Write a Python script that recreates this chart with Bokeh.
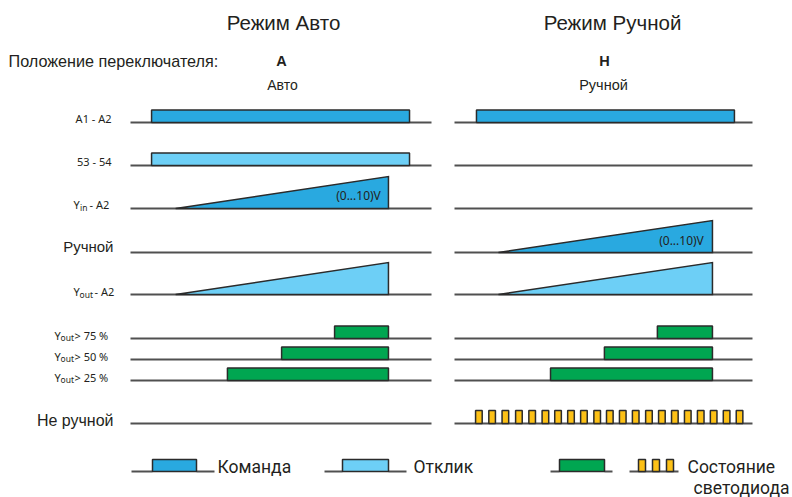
from bokeh.plotting import figure
from bokeh.models import Range1d, Label
from bokeh.embed import file_html
from bokeh.resources import INLINE

# ---------------- data (time in % of each panel's window, levels in V) ----------------
titles = ["Режим Авто", "Режим Ручной"]
switch_pos = ["A", "H"]
switch_names = ["Авто", "Ручной"]

# Auto mode
auto_cmd = [7.0, 92.7]            # A1-A2 on / off
auto_resp = [7.0, 92.7]           # 53-54 on / off
auto_yin_t = [15.0, 85.7]         # Yin ramp start / end
auto_yin_v = [0.0, 10.0]
auto_yout_t = [15.0, 85.7]        # Yout ramp start / end
auto_yout_v = [0.0, 10.0]
auto_thr_on = [67.8, 50.2, 32.2]  # Yout > 75 %, > 50 %, > 25 %
auto_thr_off = [85.7, 85.7, 85.7]

# Manual mode
man_cmd = [7.3, 93.0]
man_pot_t = [14.6, 85.7]          # manual setpoint ramp
man_pot_v = [0.0, 10.0]
man_yout_t = [14.6, 85.7]
man_yout_v = [0.0, 10.0]
man_thr_on = [67.4, 49.8, 31.9]
man_thr_off = [85.7, 85.7, 85.7]
man_led_on = [7.0, 11.4, 15.8, 20.3, 24.7, 29.1, 33.3, 37.6, 41.9, 46.3, 50.5,
              54.8, 59.1, 63.5, 67.8, 72.1, 76.4, 80.7, 85.0, 89.3, 93.6]
man_led_len = 2.2

legend_labels = ["Команда", "Отклик", "", "Состояние\nсветодиода"]

# ---------------- layout ----------------
W, H = 792, 497
PX = 3.01                      # px per time unit
LEFT0 = 130                    # canvas x of auto panel t=0
X0 = -LEFT0 / PX
X1 = X0 + W / PX
OFF = [0.0, (454 - LEFT0) / PX]   # panel offsets (data units)
PANEL_END = [100.0, 99.0]

ROW_Y = {"cmd": 122, "resp": 165, "yin": 208, "man": 252, "yout": 294,
         "t75": 338, "t50": 359, "t25": 380, "led": 423}
DIG_H = 12.5
GREEN_H = 12.5
LED_H = 13
V_PX = 3.2

C_CMD = "#29a9e0"
C_RESP = "#6dcff6"
C_GREEN = "#00a651"
C_LED = "#fdc116"
C_EDGE = "#2b2b2b"
C_BASE = "#505050"
C_TEXT = "#231f20"


def cx(px):
    return X0 + px / PX


p = figure(width=W, height=H, x_range=Range1d(X0, X1), y_range=Range1d(H, 0),
           output_backend="svg", toolbar_location=None, min_border=0,
           x_axis_location=None, y_axis_location=None)
p.grid.visible = False
p.outline_line_color = None
p.background_fill_color = "white"
p.border_fill_color = "white"

# baselines
bx0, bx1, by = [], [], []
for i in range(2):
    for key in ROW_Y:
        bx0.append(OFF[i] + 0.0)
        bx1.append(OFF[i] + PANEL_END[i])
        by.append(ROW_Y[key])
p.segment(x0=bx0, y0=by, x1=bx1, y1=by, line_color=C_BASE, line_width=2)


def block(off, t_on, t_off, y, h, color):
    p.quad(left=[off + t_on], right=[off + t_off], bottom=[y], top=[y - h],
           fill_color=color, line_color=C_EDGE, line_width=1.5)


def ramp(off, ts, vs, y, color):
    xs = [off + ts[0], off + ts[1], off + ts[1]]
    ys = [y - vs[0] * V_PX, y - vs[1] * V_PX, y]
    p.patch(x=xs, y=ys, fill_color=color, line_color=C_EDGE, line_width=1.5,
            line_join="miter")


# auto panel
o = OFF[0]
block(o, auto_cmd[0], auto_cmd[1], ROW_Y["cmd"], DIG_H, C_CMD)
block(o, auto_resp[0], auto_resp[1], ROW_Y["resp"], DIG_H, C_RESP)
ramp(o, auto_yin_t, auto_yin_v, ROW_Y["yin"], C_CMD)
ramp(o, auto_yout_t, auto_yout_v, ROW_Y["yout"], C_RESP)
for k, key in enumerate(["t75", "t50", "t25"]):
    block(o, auto_thr_on[k], auto_thr_off[k], ROW_Y[key], GREEN_H, C_GREEN)

# manual panel
o = OFF[1]
block(o, man_cmd[0], man_cmd[1], ROW_Y["cmd"], DIG_H, C_CMD)
ramp(o, man_pot_t, man_pot_v, ROW_Y["man"], C_CMD)
ramp(o, man_yout_t, man_yout_v, ROW_Y["yout"], C_RESP)
for k, key in enumerate(["t75", "t50", "t25"]):
    block(o, man_thr_on[k], man_thr_off[k], ROW_Y[key], GREEN_H, C_GREEN)
p.quad(left=[o + t for t in man_led_on], right=[o + t + man_led_len for t in man_led_on],
       bottom=[ROW_Y["led"]] * len(man_led_on), top=[ROW_Y["led"] - LED_H] * len(man_led_on),
       fill_color=C_LED, line_color=C_EDGE, line_width=1.5)


def label(x, y, text, size, font="Liberation Sans", align="left", style="normal", color=C_TEXT):
    p.add_layout(Label(x=x, y=y, x_units="screen", y_units="data", text=text,
                       text_font=font, text_font_size=f"{size}px", text_align=align,
                       text_baseline="middle", text_font_style=style, text_color=color))


# titles
label(283, 22, titles[0], 20.5, align="center")
label(612, 22, titles[1], 20.5, align="center")
label(8, 60, "Положение переключателя:", 16.2)
label(281, 60, switch_pos[0], 14.5, align="center", style="bold")
label(282, 84, switch_names[0], 14, align="center")
label(604, 60, switch_pos[1], 14.5, align="center", style="bold")
label(603, 84, switch_names[1], 14.5, align="center")

# row labels
SF = "Noto Sans"
label(111, ROW_Y["cmd"] - 4, "A1 - A2", 11, font=SF, align="right")
label(111, ROW_Y["resp"] - 4, "53 - 54", 11, font=SF, align="right")
label(73, ROW_Y["yin"] - 4, "Y", 11, font=SF)
label(79.5, ROW_Y["yin"] - 1, "in", 8.5, font=SF)
label(89, ROW_Y["yin"] - 4, "- A2", 11, font=SF)
label(113, ROW_Y["man"] - 6, "Ручной", 15, align="right")
label(73, ROW_Y["yout"] - 3, "Y", 11, font=SF)
label(79, ROW_Y["yout"] - 0.5, "out", 8.5, font=SF)
label(94, ROW_Y["yout"] - 3, "- A2", 11, font=SF)
for key, txt in [("t75", "> 75 %"), ("t50", "> 50 %"), ("t25", "> 25 %")]:
    label(54, ROW_Y[key] - 3.5, "Y", 11, font=SF)
    label(60, ROW_Y[key] - 1, "out", 8.5, font=SF)
    label(74, ROW_Y[key] - 3.5, txt, 11, font=SF)
label(113, ROW_Y["led"] - 3, "Не ручной", 16, align="right")

# ramp annotations
label(358, ROW_Y["yin"] - 13, "(0...10)V", 12, font=SF, align="center")
label(681, ROW_Y["man"] - 12, "(0...10)V", 12, font=SF, align="center")

# legend
LY = 471
LH = 12
lx0, lx1 = [], []
for a, b in [(131, 152), (196, 214), (324, 342), (388, 406), (550, 559), (604, 612), (629, 678)]:
    lx0.append(cx(a)); lx1.append(cx(b))
p.segment(x0=lx0, y0=[LY] * len(lx0), x1=lx1, y1=[LY] * len(lx1), line_color=C_BASE, line_width=2)
p.quad(left=[cx(152), cx(342), cx(559)], right=[cx(196), cx(388), cx(604)],
       bottom=[LY] * 3, top=[LY - LH] * 3, fill_color=[C_CMD, C_RESP, C_GREEN],
       line_color=C_EDGE, line_width=1.5)
p.quad(left=[cx(638), cx(652), cx(666)], right=[cx(645), cx(659), cx(673)],
       bottom=[LY] * 3, top=[LY - LH] * 3, fill_color=C_LED, line_color=C_EDGE, line_width=1.5)
LF = "Roboto"
label(217, LY - 5, legend_labels[0], 17.5, font=LF)
label(413, LY - 5, legend_labels[1], 17.5, font=LF)
first, second = legend_labels[3].split("\n")
label(687, LY - 5, first, 17.5, font=LF)
label(789, LY + 16, second, 17.5, font=LF, align="right")

open("out.html", "w").write(file_html(p, INLINE))
